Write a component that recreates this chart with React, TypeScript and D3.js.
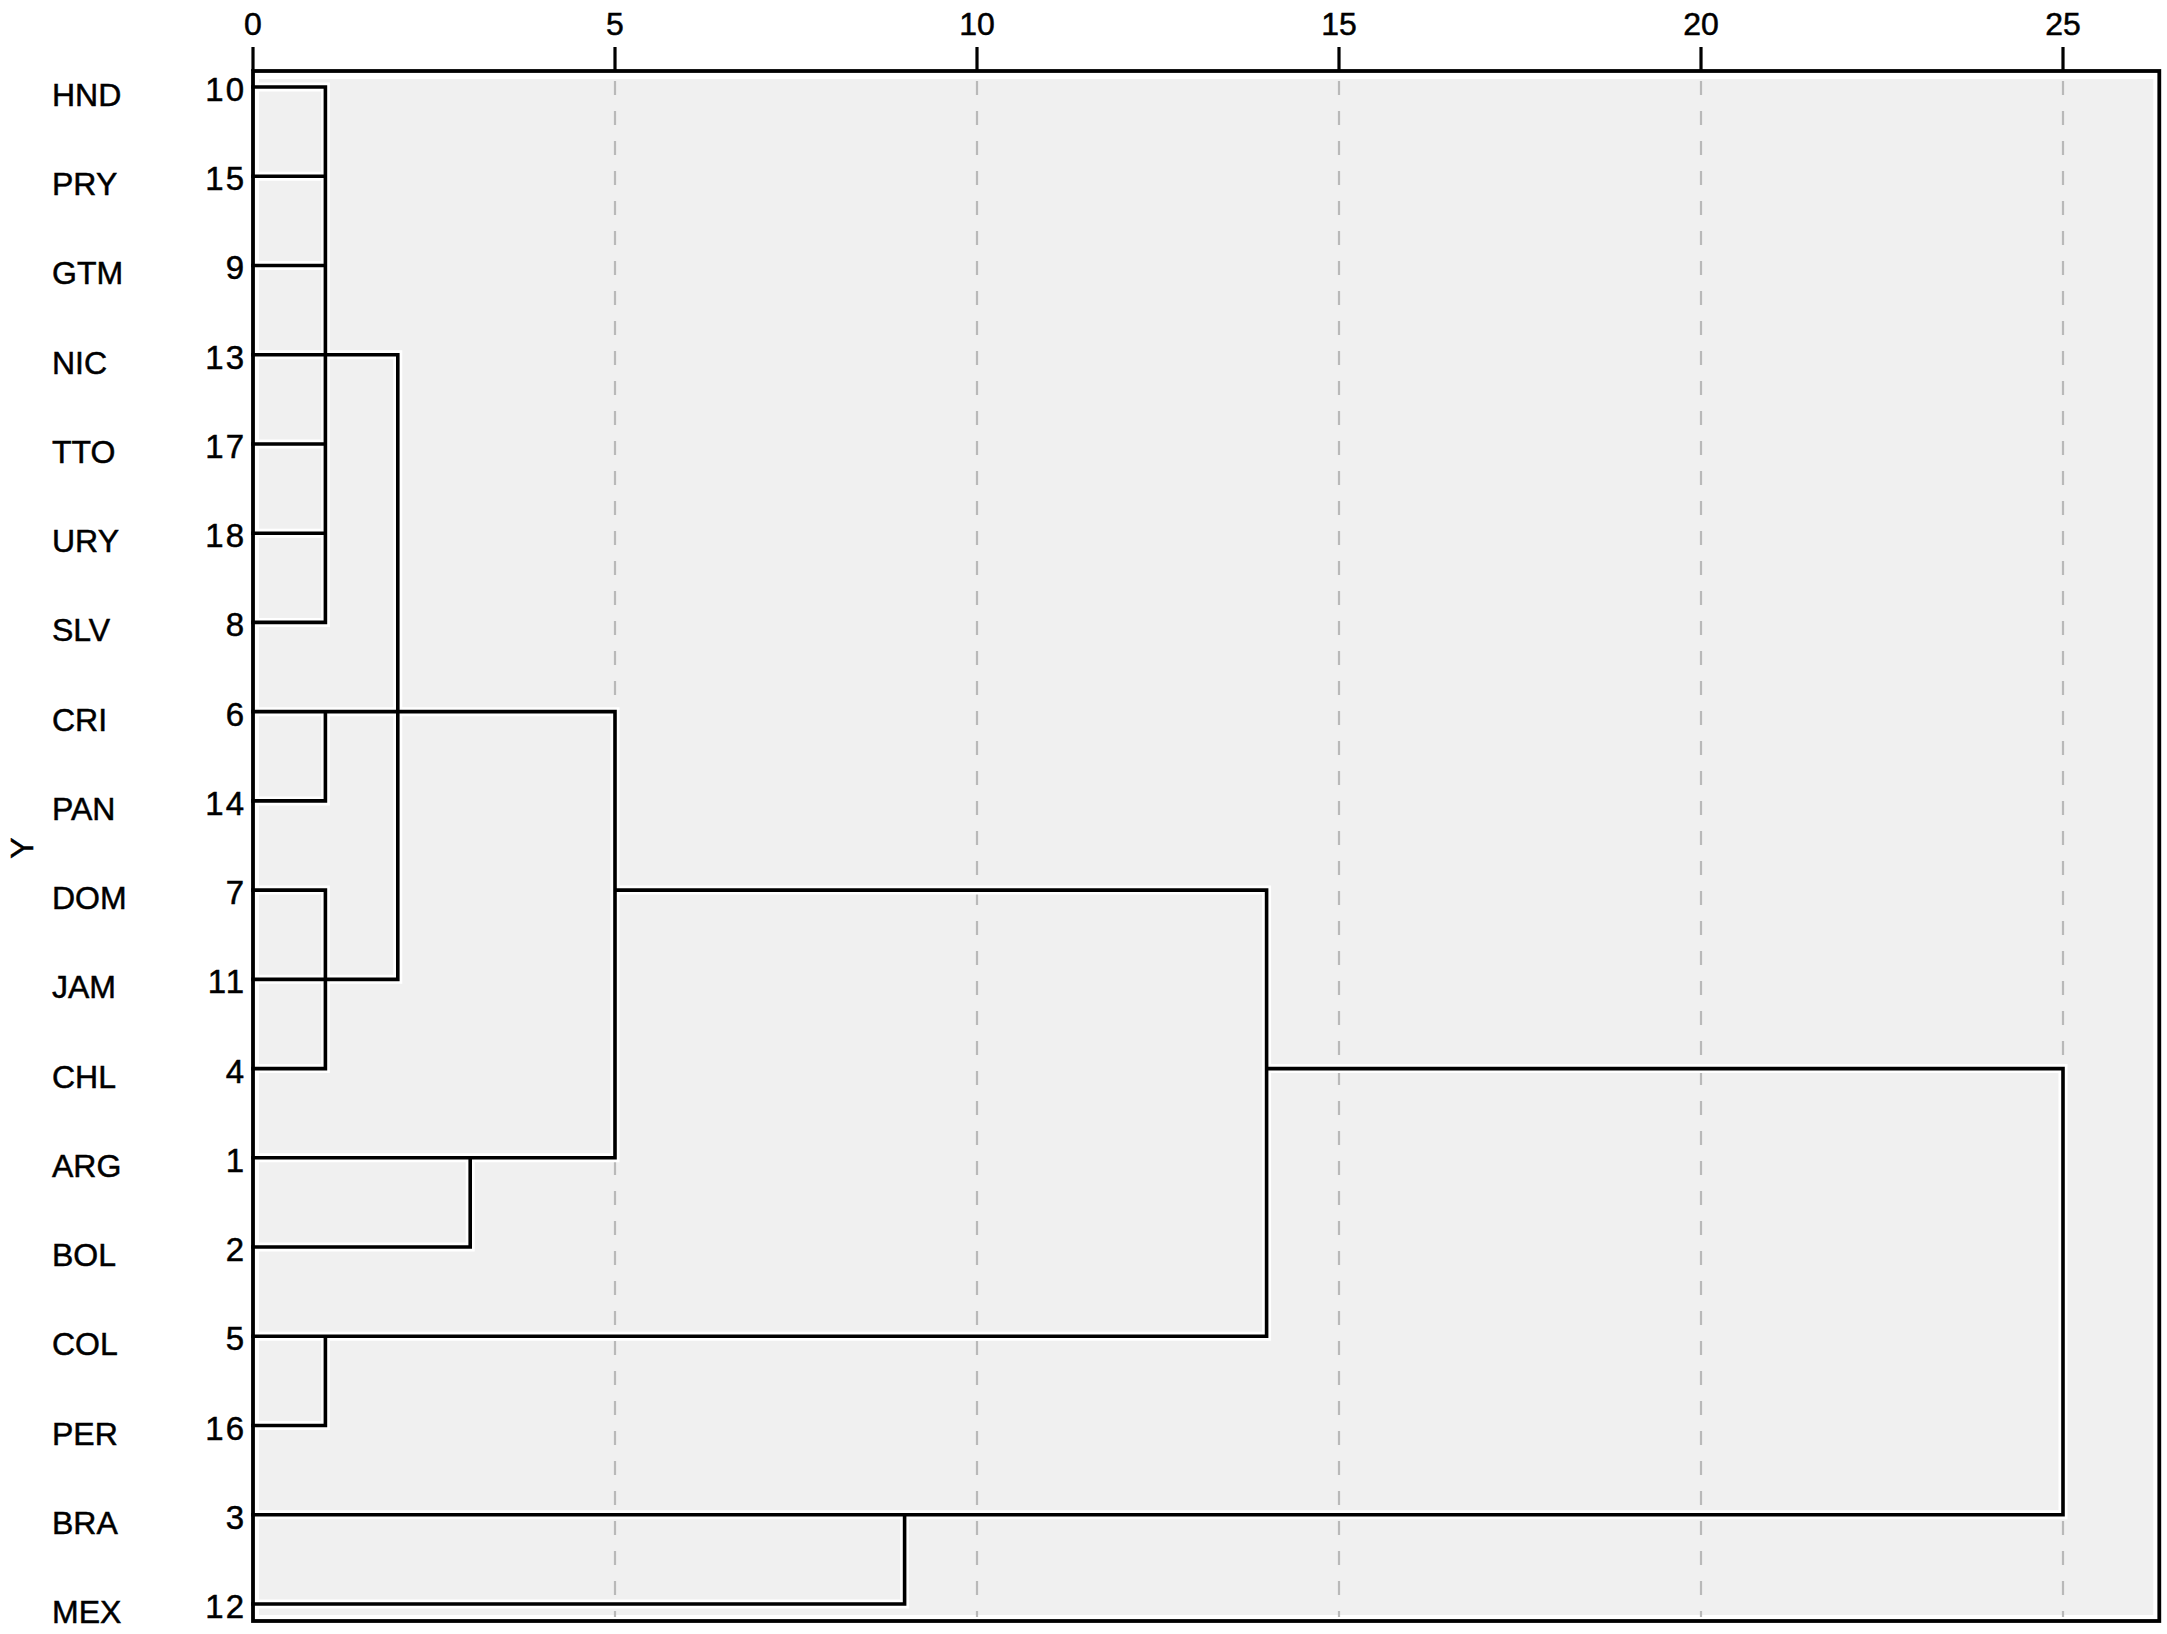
import React from "react";
import * as d3 from "d3";

// ---- data ----
const leaves = ["HND","PRY","GTM","NIC","TTO","URY","SLV","CRI","PAN","DOM","JAM","CHL","ARG","BOL","COL","PER","BRA","MEX"];
const caseNumbers = [10,15,9,13,17,18,8,6,14,7,11,4,1,2,5,16,3,12];

const mergeNames = ["A","B","C","D","E","F","G","H","I","J"];
const mergeChildren = [
  ["HND","PRY","GTM","NIC","TTO","URY","SLV"],
  ["CRI","PAN"],
  ["DOM","JAM","CHL"],
  ["A","B","C"],
  ["ARG","BOL"],
  ["D","E"],
  ["COL","PER"],
  ["F","G"],
  ["BRA","MEX"],
  ["H","I"],
];
const mergeHeights = [1, 1, 1, 2, 3, 5, 1, 14, 9, 25];
// leaf row where each cluster's outgoing line is drawn
const mergeRows = ["NIC","CRI","JAM","CRI","ARG","DOM","COL","CHL","BRA","BOL"];

const tickValues = [0, 5, 10, 15, 20, 25];
const gridValues = [5, 10, 15, 20, 25];
const axisMax = 26.33;
const yTitle = "Y";

// ---- layout ----
const W = 2167, H = 1634;
const plotTop = 71, plotBottom = 1621;
const FONT = "'Liberation Sans', Arial, Helvetica, sans-serif";

export default function App() {
  const x = d3.scaleLinear().domain([0, 25]).range([253, 2063]);
  const y = d3.scalePoint<string>().domain(leaves).range([87, 1604]);
  const plotLeft = x(0), plotRight = x(axisMax);

  const heightOf = (n: string) => {
    const i = mergeNames.indexOf(n);
    return i < 0 ? 0 : mergeHeights[i];
  };
  const yOf = (n: string) => {
    const i = mergeNames.indexOf(n);
    return i < 0 ? (y(n) as number) : (y(mergeRows[i]) as number);
  };

  const segs: string[] = [];
  mergeNames.forEach((m, i) => {
    const hx = x(mergeHeights[i]);
    const ys = mergeChildren[i].map(yOf);
    segs.push(`M${hx},${d3.min(ys)}V${d3.max(ys)}`);
    mergeChildren[i].forEach((c) => {
      segs.push(`M${x(heightOf(c))},${yOf(c)}H${hx}`);
    });
  });
  const linkPath = segs.join("");
  const inset = 6;
  const textStyle = { stroke: "#000", strokeWidth: 0.5 };

  return (
    <svg width={W} height={H} style={{ position: "absolute", left: 0, top: 0, display: "block", background: "#fff" }}>
      <rect x={plotLeft + inset} y={plotTop + inset + 2} width={plotRight - plotLeft - 2 * inset} height={plotBottom - plotTop - 2 * inset - 2} fill="#f0f0f0" />
      {gridValues.map((v) => (
        <line key={v} x1={x(v)} x2={x(v)} y1={plotTop + 10} y2={plotBottom - 4} stroke="#b9b9b9" strokeWidth={2.2} strokeDasharray="14,16" />
      ))}
      <path d={linkPath} fill="none" stroke="#ffffff" strokeWidth={9} strokeLinecap="square" />
      <path d={linkPath} fill="none" stroke="#000" strokeWidth={3.6} strokeLinecap="square" />
      {/* frame */}
      <rect x={plotLeft} y={plotTop} width={plotRight - plotLeft} height={plotBottom - plotTop} fill="none" stroke="#000" strokeWidth={3.8} />
      {/* top axis */}
      {tickValues.map((v) => (
        <g key={v}>
          <line x1={x(v)} x2={x(v)} y1={plotTop - 24} y2={plotTop} stroke="#000" strokeWidth={3.2} />
          <text x={x(v)} y={35} textAnchor="middle" fontFamily={FONT} fontSize={32} fill="#000" style={textStyle}>{v}</text>
        </g>
      ))}
      {/* leaf labels */}
      {leaves.map((l, i) => (
        <g key={l}>
          <text x={52} y={(y(l) as number) + 19} fontFamily={FONT} fontSize={32} fill="#000" style={textStyle}>{l}</text>
          <text x={246} y={(y(l) as number) + 14} textAnchor="end" fontFamily={FONT} fontSize={33} letterSpacing={2} fill="#000" style={textStyle}>{caseNumbers[i]}</text>
        </g>
      ))}
      <text transform={`translate(33,848) rotate(-90)`} textAnchor="middle" fontFamily={FONT} fontSize={32} fill="#000" style={textStyle}>{yTitle}</text>
    </svg>
  );
}
